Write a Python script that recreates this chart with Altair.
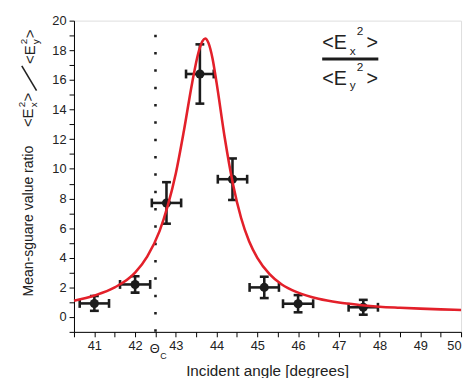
import altair as alt
import pandas as pd

# ---- data ----
pt_x = [41.0, 42.0, 42.77, 43.59, 44.39, 45.17, 46.0, 47.6]
pt_y = [0.92, 2.2, 7.7, 16.4, 9.3, 2.0, 0.9, 0.66]
pt_yerr = [0.5, 0.55, 1.4, 2.0, 1.4, 0.72, 0.58, 0.5]
pt_xerr = [0.36, 0.37, 0.36, 0.34, 0.36, 0.36, 0.37, 0.36]

curve_x = [40.5, 41.0, 41.5, 42.0, 42.3, 42.6, 42.8, 43.0, 43.2, 43.4, 43.55,
           43.65, 43.72, 43.8, 43.9, 44.0, 44.2, 44.4, 44.6, 44.8, 45.0, 45.3,
           45.6, 46.0, 46.5, 47.0, 47.5, 48.0, 48.5, 49.0, 49.5, 50.0]
curve_y = [1.1, 1.45, 2.0, 3.0, 4.1, 5.8, 7.5, 9.7, 12.6, 15.8, 17.8,
           18.6, 18.8, 18.5, 17.45, 15.8, 12.1, 9.0, 6.7, 5.1, 4.0, 2.9,
           2.2, 1.65, 1.23, 0.98, 0.82, 0.70, 0.63, 0.57, 0.52, 0.48]

theta_c = [42.5]
x_ticks = [40.5 + 0.5 * i for i in range(20)]
y_ticks = list(range(-1, 21))

FONT = "Liberation Sans"
RED = "#e3202a"
BLK = "#1c1c1c"

pts = pd.DataFrame({"x": pt_x, "y": pt_y, "ye": pt_yerr, "xe": pt_xerr})
pts["ylo"] = pts.y - pts.ye
pts["yhi"] = pts.y + pts.ye
pts["xlo"] = pts.x - pts.xe
pts["xhi"] = pts.x + pts.xe
curve = pd.DataFrame({"x": curve_x, "y": curve_y})

xs = alt.Scale(domain=[40.5, 50], nice=False, zero=False)
ys = alt.Scale(domain=[-1, 20], nice=False, zero=False)

xaxis = alt.Axis(values=x_ticks,
                 labelExpr="datum.value % 1 == 0 ? format(datum.value, 'd') : ''",
                 tickSize=5, tickColor="black", domainColor="black", labelColor="#222",
                 labelFont=FONT, labelFontSize=13, labelPadding=3, grid=False,
                 title=None, labelOverlap=False, labelFlush=True)
yaxis = alt.Axis(values=y_ticks,
                 labelExpr="datum.value >= 0 && datum.value % 2 == 0 ? datum.label : ''",
                 tickSize=5, tickColor="black", domainColor="black", labelColor="#222",
                 labelFont=FONT, labelFontSize=13, labelPadding=3, grid=False,
                 title=None, labelOverlap=False)


def X(f):
    return alt.X(f, scale=xs, axis=xaxis)


def Y(f):
    return alt.Y(f, scale=ys, axis=yaxis)


base = alt.Chart(pts)

vline = alt.Chart(pd.DataFrame({"x": theta_c, "y0": [-1], "y1": [19.3]})).mark_rule(
    color=BLK, strokeWidth=2.6, strokeDash=[2.6, 15]).encode(
    x=X("x:Q"), y=Y("y0:Q"), y2="y1:Q")

vbar = base.mark_rule(color=BLK, strokeWidth=2.6).encode(
    x=X("x:Q"), y=Y("ylo:Q"), y2="yhi:Q")
hbar = base.mark_rule(color=BLK, strokeWidth=2.6).encode(
    y=Y("y:Q"), x=X("xlo:Q"), x2="xhi:Q")
cap_lo = base.mark_tick(color=BLK, orient="horizontal", size=9, thickness=2.6, opacity=1).encode(
    x=X("x:Q"), y=Y("ylo:Q"))
cap_hi = base.mark_tick(color=BLK, orient="horizontal", size=9, thickness=2.6, opacity=1).encode(
    x=X("x:Q"), y=Y("yhi:Q"))
cap_l = base.mark_tick(color=BLK, orient="vertical", size=9, thickness=2.6, opacity=1).encode(
    x=X("xlo:Q"), y=Y("y:Q"))
cap_r = base.mark_tick(color=BLK, orient="vertical", size=9, thickness=2.6, opacity=1).encode(
    x=X("xhi:Q"), y=Y("y:Q"))
dots = base.mark_circle(color=BLK, size=85, opacity=1).encode(
    x=X("x:Q"), y=Y("y:Q"))

line = alt.Chart(curve).mark_line(color=RED, strokeWidth=2.6, interpolate="monotone").encode(
    x=X("x:Q"), y=Y("y:Q"))


def label(text, x, y, size, angle=0, align="left", baseline="alphabetic"):
    return alt.Chart(pd.DataFrame({"t": [text]})).mark_text(
        font=FONT, fontSize=size, angle=angle, align=align, baseline=baseline,
        color="#222").encode(x=alt.value(x), y=alt.value(y), text="t:N")


texts = [
    # top-right fraction
    label("<E", 252, 29, 20),
    label("x", 280, 35, 12),
    label("2", 287, 15, 12),
    label(">", 297, 29, 20),
    label("<E", 252, 65, 20),
    label("y", 280, 69, 12),
    label("2", 287, 51, 12),
    label(">", 297, 65, 20),
    # y-axis title (rotated)
    label("Mean-sguare value ratio", -42, 280, 14.2, angle=270),
    label("<E", -42, 108, 15, angle=270),
    label("2", -50, 88, 10, angle=270),
    label("x", -38, 88, 10, angle=270),
    label(">", -42, 82, 15, angle=270),
    label("<E", -40, 44, 15, angle=270),
    label("2", -48, 24, 10, angle=270),
    label("y", -36, 24, 10, angle=270),
    label(">", -40, 18, 15, angle=270),
    # x-axis title and theta_c label
    label("Incident angle [degrees]", 196.5, 361, 15.5, align="center"),
    label("\u0398", 82, 337, 13, align="center"),
    label("C", 87.5, 344, 9),
]

frac_line = alt.Chart(pd.DataFrame({"k": [0]})).mark_rule(color=BLK, strokeWidth=3).encode(
    x=alt.value(252), x2=alt.value(309), y=alt.value(39))
slash = alt.Chart(pd.DataFrame({"k": [0]})).mark_rule(color="#222", strokeWidth=1.6).encode(
    x=alt.value(-38), y=alt.value(71), x2=alt.value(-53), y2=alt.value(46))

chart = alt.layer(vline, vbar, hbar, cap_lo, cap_hi, cap_l, cap_r, dots, line,
                  frac_line, slash, *texts).properties(
    width=393, height=316,
    autosize=alt.AutoSizeParams(type="none"),
    padding={"left": 67, "top": 10, "right": 4, "bottom": 44},
).configure_view(stroke=None).configure(background="white")

chart.save("out.html", embed_options={"renderer": "svg", "actions": False})
